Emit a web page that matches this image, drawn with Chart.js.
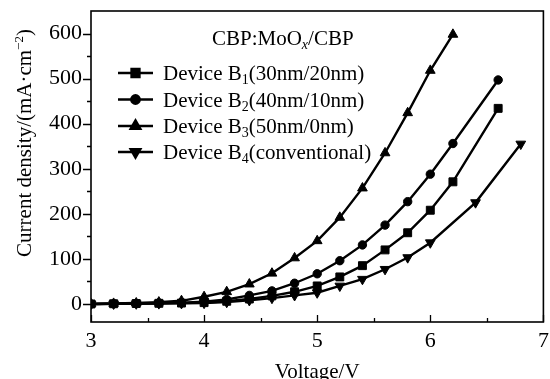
<!DOCTYPE html>
<html>
<head>
<meta charset="utf-8">
<script src="https://cdn.jsdelivr.net/npm/chart.js@4.4.1/dist/chart.umd.min.js"></script>
<style>
  body { margin: 0; background: #fff; }
  canvas { display: block; }
</style>
</head>
<body>
<canvas id="jvChart" width="550" height="379"></canvas>
<script>
// voltages (V) and current densities (mA/cm2)
var voltB1 = [3.0, 3.2, 3.4, 3.6, 3.8, 4.0, 4.2, 4.4, 4.6, 4.8, 5.0, 5.2, 5.4, 5.6, 5.8, 6.0, 6.2, 6.6];
var currB1 = [0, 0.5, 1, 1.5, 2, 3, 6, 11, 18, 27, 40, 60, 85, 120, 158, 208, 271, 434];

var voltB2 = [3.0, 3.2, 3.4, 3.6, 3.8, 4.0, 4.2, 4.4, 4.6, 4.8, 5.0, 5.2, 5.4, 5.6, 5.8, 6.0, 6.2, 6.6];
var currB2 = [0, 0.5, 1, 2, 3, 5, 10, 19, 29, 46, 67, 96, 131, 175, 227, 288, 356, 497];

var voltB3 = [3.0, 3.2, 3.4, 3.6, 3.8, 4.0, 4.2, 4.4, 4.6, 4.8, 5.0, 5.2, 5.4, 5.6, 5.8, 6.0, 6.2];
var currB3 = [0, 1, 2, 4, 7, 16, 27, 44, 68, 102, 140, 192, 257, 335, 424, 518, 598];

var voltB4 = [3.0, 3.2, 3.4, 3.6, 3.8, 4.0, 4.2, 4.4, 4.6, 4.8, 5.0, 5.2, 5.4, 5.6, 5.8, 6.0, 6.4, 6.8];
var currB4 = [0, 0.3, 0.6, 1, 1.5, 2, 4, 8, 13, 19, 25, 40, 55, 77, 103, 136, 225, 355];

var xTicks = [3, 4, 5, 6, 7];
var xMinorTicks = [3.5, 4.5, 5.5, 6.5];
var yTicks = [0, 100, 200, 300, 400, 500, 600];
var yMinorTicks = [50, 150, 250, 350, 450, 550];

var legendTitle = ['CBP:MoO', 'x', '/CBP'];
var legendNames = ['Device B', 'Device B', 'Device B', 'Device B'];
var legendSubs = ['1', '2', '3', '4'];
var legendNotes = ['(30nm/20nm)', '(40nm/10nm)', '(50nm/0nm)', '(conventional)'];

var xTitle = 'Voltage/V';
var yTitle = ['Current density/(mA\u00b7cm', '\u22122', ')'];

var SERIF = '"Liberation Serif", "Times New Roman", serif';

function toPoints(xs, ys) {
    var pts = [];
    for (var i = 0; i < xs.length; i++) {
        pts.push({ x: xs[i], y: ys[i] });
    }
    return pts;
}

function makeSet(i, xs, ys, style, radius, rot) {
    return {
        label: legendNames[i] + legendSubs[i] + legendNotes[i],
        data: toPoints(xs, ys),
        borderColor: '#000',
        backgroundColor: '#000',
        borderWidth: 2.4,
        tension: 0,
        pointStyle: style,
        pointRadius: radius,
        pointRotation: rot,
        pointBackgroundColor: '#000',
        pointBorderColor: '#000',
        pointBorderWidth: 1
    };
}

// draw a list of text runs (normal / sub / sup) starting at x, returns end x
function drawRuns(ctx, runs, x, y, measureOnly) {
    for (var i = 0; i < runs.length; i++) {
        var r = runs[i];
        ctx.font = (r.italic ? 'italic ' : '') + r.size + 'px ' + SERIF;
        if (!measureOnly) {
            ctx.fillText(r.text, x, y + (r.dy || 0));
        }
        x += ctx.measureText(r.text).width;
    }
    return x;
}

var framePlugin = {
    id: 'frame',
    afterDraw: function(chart) {
        var ctx = chart.ctx;
        var a = chart.chartArea;
        var xs = chart.scales.x;
        var ys = chart.scales.y;
        var i, p;

        ctx.save();
        ctx.strokeStyle = '#000';
        ctx.fillStyle = '#000';
        ctx.lineWidth = 1.6;
        ctx.strokeRect(a.left, a.top, a.right - a.left, a.bottom - a.top);

        // y ticks point outward, x ticks point inward
        ctx.lineWidth = 1.3;
        ctx.beginPath();
        for (i = 0; i < yTicks.length; i++) {
            p = Math.round(ys.getPixelForValue(yTicks[i])) + 0.5;
            ctx.moveTo(a.left - 8, p);
            ctx.lineTo(a.left, p);
        }
        for (i = 0; i < yMinorTicks.length; i++) {
            p = Math.round(ys.getPixelForValue(yMinorTicks[i])) + 0.5;
            ctx.moveTo(a.left - 4, p);
            ctx.lineTo(a.left, p);
        }
        for (i = 0; i < xTicks.length; i++) {
            p = Math.round(xs.getPixelForValue(xTicks[i])) + 0.5;
            ctx.moveTo(p, a.bottom);
            ctx.lineTo(p, a.bottom - 7);
        }
        for (i = 0; i < xMinorTicks.length; i++) {
            p = Math.round(xs.getPixelForValue(xMinorTicks[i])) + 0.5;
            ctx.moveTo(p, a.bottom);
            ctx.lineTo(p, a.bottom - 4);
        }
        ctx.stroke();

        // axis titles
        ctx.textBaseline = 'alphabetic';
        ctx.textAlign = 'center';
        ctx.font = '21px ' + SERIF;
        ctx.fillText(xTitle, (a.left + a.right) / 2, 378);

        ctx.textAlign = 'left';
        var yRuns = [
            { text: yTitle[0], size: 21 },
            { text: yTitle[1], size: 13, dy: -8 },
            { text: yTitle[2], size: 21 }
        ];
        var w = drawRuns(ctx, yRuns, 0, 0, true);
        ctx.save();
        ctx.translate(31, 143);
        ctx.rotate(-Math.PI / 2);
        drawRuns(ctx, yRuns, -w / 2, 0);
        ctx.restore();

        // legend
        drawRuns(ctx, [
            { text: legendTitle[0], size: 21 },
            { text: legendTitle[1], size: 14, dy: 4, italic: true },
            { text: legendTitle[2], size: 21 }
        ], 212, 45);

        var rowY = [73, 99.5, 126, 152];
        var sets = chart.data.datasets;
        for (i = 0; i < sets.length; i++) {
            var ds = sets[i];
            var y = rowY[i];
            ctx.lineWidth = ds.borderWidth;
            ctx.beginPath();
            ctx.moveTo(118, y);
            ctx.lineTo(153, y);
            ctx.stroke();
            Chart.helpers.drawPoint(ctx, {
                pointStyle: ds.pointStyle,
                rotation: ds.pointRotation,
                radius: ds.pointRadius,
                borderWidth: 1
            }, 135.5, y);
            ctx.fill();
            drawRuns(ctx, [
                { text: legendNames[i], size: 21 },
                { text: legendSubs[i], size: 14, dy: 4 },
                { text: legendNotes[i], size: 21 }
            ], 163, y + 7);
        }
        ctx.restore();
    }
};

document.addEventListener('DOMContentLoaded', function() {
    var ctx = document.getElementById('jvChart').getContext('2d');

    var data = {
        datasets: [
            makeSet(0, voltB1, currB1, 'rect', 5.6, 0),
            makeSet(1, voltB2, currB2, 'circle', 4.2, 0),
            makeSet(2, voltB3, currB3, 'triangle', 5.6, 0),
            makeSet(3, voltB4, currB4, 'triangle', 5.6, 180)
        ]
    };

    var tickFont = { family: SERIF, size: 22 };

    var options = {
        responsive: false,
        animation: false,
        devicePixelRatio: 1,
        layout: { padding: { left: 0, right: 4, top: 11, bottom: 0 } },
        plugins: {
            legend: { display: false },
            tooltip: { enabled: false }
        },
        scales: {
            x: {
                type: 'linear',
                min: 3,
                max: 7,
                afterBuildTicks: function(s) {
                    s.ticks = xTicks.map(function(v) { return { value: v }; });
                },
                afterFit: function(s) {
                    // frame edges are fixed, labels may hang over
                    s.height = 57;
                    s.paddingLeft = 0;
                    s.paddingRight = 0;
                },
                ticks: {
                    font: tickFont,
                    color: '#000',
                    padding: 6,
                    maxRotation: 0,
                    callback: function(v) { return String(v); }
                },
                grid: { display: false, drawTicks: false },
                border: { display: false }
            },
            y: {
                type: 'linear',
                min: -40,
                max: 650,
                afterBuildTicks: function(s) {
                    s.ticks = yTicks.map(function(v) { return { value: v }; });
                },
                afterFit: function(s) {
                    s.width = 91;
                    s.paddingTop = 0;
                    s.paddingBottom = 0;
                },
                ticks: {
                    font: tickFont,
                    color: '#000',
                    padding: 9,
                    callback: function(v) { return String(v); }
                },
                grid: { display: false, drawTicks: false },
                border: { display: false }
            }
        }
    };

    new Chart(ctx, {
        type: 'line',
        data: data,
        options: options,
        plugins: [framePlugin]
    });
});
</script>
</body>
</html>
